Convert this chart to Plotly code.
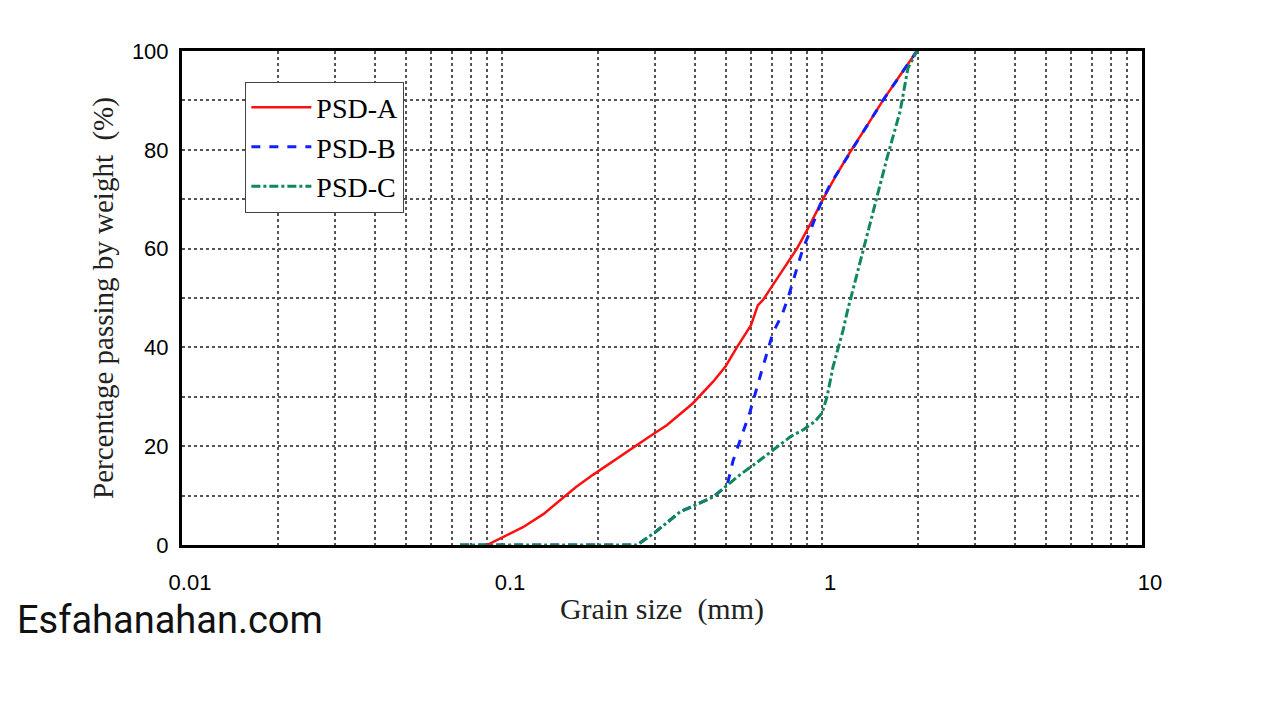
import plotly.graph_objects as go

# PSD-A (red, solid)
psd_a_x = [0.0897, 0.1, 0.1163, 0.135, 0.1518, 0.17, 0.1924, 0.22, 0.251, 0.29, 0.328, 0.395,
           0.456, 0.50, 0.542, 0.60, 0.63, 0.654, 0.70, 0.75, 0.835, 0.92, 1.007, 1.10, 1.223,
           1.38, 1.55, 1.75, 1.98]
psd_a_y = [0, 1.5, 3.6, 6.3, 9.1, 11.7, 14.2, 16.8, 19.2, 22.0, 24.3, 28.7,
           33, 36.2, 40, 44.5, 48.5, 49.6, 52.5, 55.5, 60, 65, 70, 74.5, 79.5,
           84.8, 90, 95, 100]

# PSD-B (blue, dashed)
psd_b_x = [0.074, 0.264, 0.30, 0.36, 0.456, 0.505, 0.527, 0.554, 0.596, 0.649, 0.703, 0.75,
           0.783, 0.841, 0.872, 0.917, 0.986, 1.059, 1.223, 1.38, 1.55, 1.75, 1.98]
psd_b_y = [0, 0, 2.5, 6.7, 9.7, 12, 17, 21, 27, 35.4, 43, 46.6,
           50, 56.7, 60, 63.4, 68.8, 72.9, 79.5, 84.8, 90, 95, 100]

# PSD-C (green, dash-dot)
psd_c_x = [0.074, 0.264, 0.30, 0.36, 0.456, 0.505, 0.554, 0.62, 0.703, 0.80, 0.872, 0.95,
           1.0, 1.037, 1.082, 1.164, 1.197, 1.343, 1.486, 1.596, 1.753, 1.856, 1.98]
psd_c_y = [0, 0, 2.5, 6.7, 9.7, 12, 14.2, 16.5, 19.2, 22.0, 23.3, 25.0,
           26.7, 30, 36, 43.5, 47, 59.3, 70.2, 78.3, 87.7, 96.5, 100]

x_tick_vals = [0.01, 0.1, 1, 10]
x_tick_text = ["0.01", "0.1", "1", "10"]
y_tick_vals = [0, 20, 40, 60, 80, 100]

grid_color = "#555555"

fig = go.Figure()
fig.add_trace(go.Scatter(x=psd_a_x, y=psd_a_y, mode="lines", name="PSD-A",
                         line=dict(color="#ff1010", width=2.5, dash="solid")))
fig.add_trace(go.Scatter(x=psd_b_x, y=psd_b_y, mode="lines", name="PSD-B",
                         line=dict(color="#1020ff", width=3, dash="dash")))
fig.add_trace(go.Scatter(x=psd_c_x, y=psd_c_y, mode="lines", name="PSD-C",
                         line=dict(color="#10885a", width=3, dash="dashdot")))

fig.update_layout(
    width=1280, height=720,
    margin=dict(l=182, r=138, t=51, b=175),
    paper_bgcolor="white", plot_bgcolor="white",
    showlegend=True,
    legend=dict(x=0.066, y=0.938, xanchor="left", yanchor="top",
                bordercolor="#444444", borderwidth=1, bgcolor="white",
                font=dict(family="Liberation Serif", size=28, color="black"),
                tracegroupgap=0, itemwidth=60),
    xaxis=dict(
        type="log", range=[-2, 1],
        tickvals=x_tick_vals, ticktext=x_tick_text,
        tickfont=dict(family="Liberation Sans", size=22, color="black"),
        ticks="", ticklen=0, ticklabelstandoff=16, ticklabelshift=8,
        showgrid=True, gridcolor=grid_color, griddash="dot", gridwidth=1.5,
        minor=dict(dtick="D1", showgrid=True, gridcolor=grid_color, griddash="dot", gridwidth=1.5),
        showline=True, linecolor="black", linewidth=3, mirror=True,
        zeroline=False,
        title=dict(text="Grain size&nbsp;&nbsp;(mm)", standoff=4,
                   font=dict(family="Liberation Serif", size=30, color="#222222")),
    ),
    yaxis=dict(
        range=[0, 100],
        tickvals=y_tick_vals,
        tickfont=dict(family="Liberation Sans", size=22, color="black"),
        ticks="", ticklabelstandoff=6,
        showgrid=True, gridcolor=grid_color, griddash="dot", gridwidth=1.5,
        minor=dict(dtick=10, showgrid=True, gridcolor=grid_color, griddash="dot", gridwidth=1.5),
        showline=True, linecolor="black", linewidth=3, mirror=True,
        zeroline=False,
        title=dict(text="Percentage passing by weight&nbsp;&nbsp;(%)", standoff=10,
                   font=dict(family="Liberation Serif", size=29, color="#222222")),
    ),
)

fig.add_annotation(text="Esfahanahan.com", xref="paper", yref="paper",
                   x=-0.174, y=-0.152, xanchor="left", yanchor="middle", showarrow=False,
                   font=dict(family="Roboto", size=38, color="#111111"))

fig.write_html("out.html")
